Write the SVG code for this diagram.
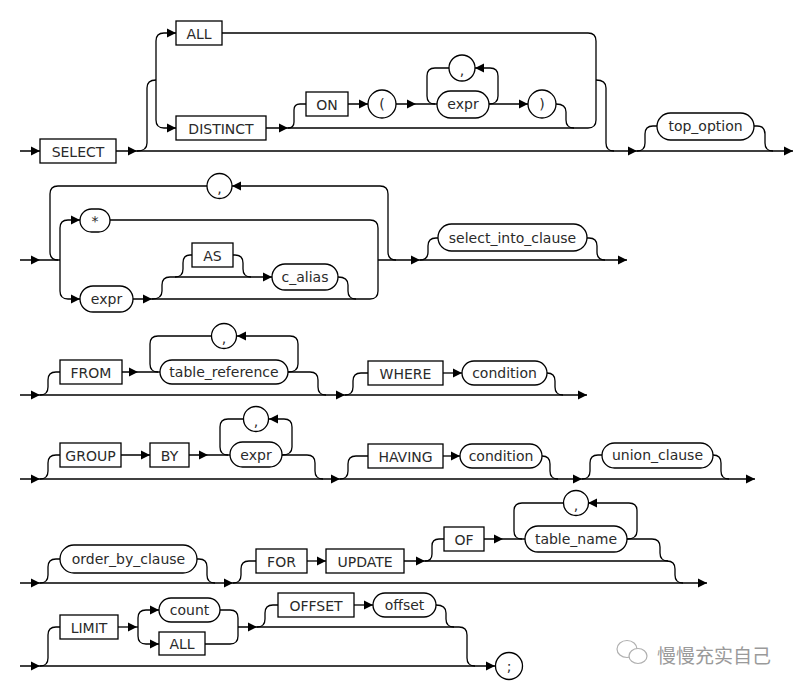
<svg xmlns="http://www.w3.org/2000/svg" xmlns:xlink="http://www.w3.org/1999/xlink" width="794" height="689" viewBox="0 0 794 689">
<style>
.ln{fill:none;stroke:#000;stroke-width:1.3}
.bx{fill:#fff;stroke:#000;stroke-width:1.3}
.t{font-family:"DejaVu Sans","Liberation Sans",sans-serif;font-size:14px;fill:#2a2a2a;text-anchor:middle;dominant-baseline:central}
.wm{font-family:"Noto Sans CJK SC","DejaVu Sans",sans-serif;font-size:19px;fill:#9a9a9a;dominant-baseline:central}
</style>
<defs>
<path id="a" d="M0,0 l-9,-4.5 v9 z" fill="#000"/>
<path id="b" d="M0,0 l9,-4.5 v9 z" fill="#000"/>
</defs>
<rect width="794" height="689" fill="#fff"/>
<g id="connectors">
<!-- row 1 -->
<path class="ln" d="M20,151 H40 M116,151 H793"/>
<path class="ln" d="M137,151 Q147,151 147,143 V88 Q147,80 156,80"/>
<path class="ln" d="M176,33 H164 Q156,33 156,41 V120 Q156,128 164,128 H176"/>
<path class="ln" d="M222,33 H588 Q596,33 596,41 V120 Q596,128 588,128 H266"/>
<path class="ln" d="M288,128 Q294,128 294,122 V110 Q294,104 300,104 H306"/>
<path class="ln" d="M348,104 H368 M396,104 H437"/>
<path class="ln" d="M449,68 H435 Q427,68 427,76 V96 Q427,104 435,104"/>
<path class="ln" d="M489,104 Q498,104 498,96 V76 Q498,68 490,68 H475"/>
<path class="ln" d="M489,104 H528"/>
<path class="ln" d="M556,104 Q566,104 566,112 V120 Q566,128 574,128"/>
<path class="ln" d="M596,80 Q606,80 606,88 V143 Q606,151 614,151"/>
<path class="ln" d="M637,151 Q645,151 645,143 V134 Q645,126 653,126 H657"/>
<path class="ln" d="M754,126 H757 Q765,126 765,134 V143 Q765,151 773,151"/>
<use href="#a" x="40" y="151"/><use href="#a" x="137" y="151"/><use href="#a" x="176" y="33"/><use href="#a" x="176" y="128"/>
<use href="#a" x="288" y="128"/><use href="#a" x="368" y="104"/><use href="#a" x="416" y="104"/><use href="#a" x="528" y="104"/>
<use href="#a" x="637" y="151"/><use href="#a" x="793" y="151"/><use href="#b" x="475" y="68"/>
<!-- row 2 -->
<path class="ln" d="M20,260 H60 M378,260 H627"/>
<path class="ln" d="M58,260 Q50,260 50,252 V194 Q50,186 58,186 H207"/>
<path class="ln" d="M232,186 H380 Q388,186 388,194 V252 Q388,260 396,260"/>
<path class="ln" d="M80,220 H68 Q60,220 60,228 V291 Q60,299 68,299 H80"/>
<path class="ln" d="M110,220 H370 Q378,220 378,228 V291 Q378,299 370,299 H133"/>
<path class="ln" d="M152,299 Q162,299 162,291 V285 Q162,277 170,277 H272"/>
<path class="ln" d="M175,277 Q183,277 183,269 V263 Q183,255 190,255 H192"/>
<path class="ln" d="M233,255 H235 Q243,255 243,263 V269 Q243,277 251,277"/>
<path class="ln" d="M338,277 Q348,277 348,285 V291 Q348,299 356,299"/>
<path class="ln" d="M420,260 Q428,260 428,252 V246 Q428,238 436,238 H438"/>
<path class="ln" d="M587,238 H589 Q597,238 597,246 V252 Q597,260 605,260"/>
<use href="#a" x="40" y="260"/><use href="#a" x="80" y="220"/><use href="#a" x="80" y="299"/><use href="#a" x="152" y="299"/>
<use href="#a" x="272" y="277"/><use href="#a" x="420" y="260"/><use href="#a" x="627" y="260"/><use href="#b" x="232" y="186"/>
<!-- row 3 -->
<path class="ln" d="M20,395 H587"/>
<path class="ln" d="M40,395 Q48,395 48,387 V380 Q48,372 56,372 H60"/>
<path class="ln" d="M122,372 H160"/>
<path class="ln" d="M211,336 H158 Q150,336 150,344 V364 Q150,372 158,372"/>
<path class="ln" d="M288,372 Q298,372 298,364 V344 Q298,336 290,336 H237"/>
<path class="ln" d="M288,372 H310 Q318,372 318,380 V387 Q318,395 326,395"/>
<path class="ln" d="M345,395 Q353,395 353,387 V381 Q353,373 361,373 H368"/>
<path class="ln" d="M443,373 H462"/>
<path class="ln" d="M547,373 Q555,373 555,381 V387 Q555,395 563,395"/>
<use href="#a" x="40" y="395"/><use href="#a" x="138" y="372"/><use href="#a" x="345" y="395"/><use href="#a" x="462" y="373"/>
<use href="#a" x="587" y="395"/><use href="#b" x="237" y="336"/>
<!-- row 4 -->
<path class="ln" d="M20,479 H755"/>
<path class="ln" d="M40,479 Q48,479 48,471 V463 Q48,455 56,455 H60"/>
<path class="ln" d="M121,455 H150 M189,455 H230"/>
<path class="ln" d="M243,419 H228 Q220,419 220,427 V447 Q220,455 228,455"/>
<path class="ln" d="M282,455 Q292,455 292,447 V427 Q292,419 284,419 H269"/>
<path class="ln" d="M282,455 H307 Q315,455 315,463 V471 Q315,479 323,479"/>
<path class="ln" d="M340,479 Q348,479 348,471 V464 Q348,456 356,456 H368"/>
<path class="ln" d="M443,456 H460"/>
<path class="ln" d="M542,456 Q550,456 550,464 V471 Q550,479 558,479"/>
<path class="ln" d="M582,479 Q590,479 590,471 V463 Q590,455 598,455 H602"/>
<path class="ln" d="M713,455 Q721,455 721,463 V471 Q721,479 729,479"/>
<use href="#a" x="40" y="479"/><use href="#a" x="150" y="455"/><use href="#a" x="208" y="455"/><use href="#a" x="340" y="479"/>
<use href="#a" x="460" y="456"/><use href="#a" x="582" y="479"/><use href="#a" x="755" y="479"/><use href="#b" x="269" y="419"/>
<!-- row 5 -->
<path class="ln" d="M20,583 H707"/>
<path class="ln" d="M40,583 Q48,583 48,575 V567 Q48,559 56,559 H60"/>
<path class="ln" d="M197,559 H199 Q207,559 207,567 V575 Q207,583 215,583"/>
<path class="ln" d="M233,583 Q241,583 241,575 V569 Q241,561 249,561 H256"/>
<path class="ln" d="M307,561 H326"/>
<path class="ln" d="M404,561 H667 Q675,561 675,569 V575 Q675,583 683,583"/>
<path class="ln" d="M425,561 Q432,561 432,554 V546 Q432,539 439,539 H444"/>
<path class="ln" d="M484,539 H525"/>
<path class="ln" d="M563,503 H522 Q514,503 514,511 V531 Q514,539 522,539"/>
<path class="ln" d="M627,539 Q637,539 637,531 V511 Q637,503 629,503 H588"/>
<path class="ln" d="M627,539 H652 Q660,539 660,547 V553 Q660,561 668,561"/>
<use href="#a" x="40" y="583"/><use href="#a" x="233" y="583"/><use href="#a" x="326" y="561"/><use href="#a" x="425" y="561"/>
<use href="#a" x="503" y="539"/><use href="#a" x="707" y="583"/><use href="#b" x="588" y="503"/>
<!-- row 6 -->
<path class="ln" d="M20,666 H495"/>
<path class="ln" d="M40,666 Q48,666 48,658 V635 Q48,627 56,627 H60"/>
<path class="ln" d="M118,627 H138"/>
<path class="ln" d="M159,610 H146 Q138,610 138,618 V636 Q138,644 146,644 H159"/>
<path class="ln" d="M220,610 H230 Q238,610 238,618 V636 Q238,644 230,644 H205"/>
<path class="ln" d="M238,627 H459 Q467,627 467,635 V658 Q467,666 475,666"/>
<path class="ln" d="M257,627 Q265,627 265,619 V613 Q265,605 273,605 H278"/>
<path class="ln" d="M354,605 H373"/>
<path class="ln" d="M436,605 Q446,605 446,613 V619 Q446,627 454,627"/>
<use href="#a" x="40" y="666"/><use href="#a" x="137" y="627"/><use href="#a" x="159" y="610"/><use href="#a" x="159" y="644"/>
<use href="#a" x="257" y="627"/><use href="#a" x="373" y="605"/><use href="#a" x="495" y="666"/>
</g>
<!-- row 1 nodes -->
<g id="n-select"><rect class="bx" x="40" y="139" width="76" height="24"/><text class="t" x="78" y="151.5">SELECT</text></g>
<g id="n-all1"><rect class="bx" x="176" y="21" width="46" height="24"/><text class="t" x="199" y="33.5">ALL</text></g>
<g id="n-distinct"><rect class="bx" x="176" y="116" width="90" height="24"/><text class="t" x="221" y="128.5">DISTINCT</text></g>
<g id="n-on"><rect class="bx" x="306" y="92" width="42" height="24"/><text class="t" x="327" y="104.5">ON</text></g>
<g id="n-lparen"><circle class="bx" cx="382" cy="104" r="14"/><text class="t" x="382" y="104">(</text></g>
<g id="n-expr1"><rect class="bx" x="437" y="91" width="52" height="27" rx="13.5"/><text class="t" x="463" y="104">expr</text></g>
<g id="n-comma1"><circle class="bx" cx="462" cy="68" r="13"/><text class="t" x="462" y="70">,</text></g>
<g id="n-rparen"><circle class="bx" cx="542" cy="104" r="14"/><text class="t" x="542" y="104">)</text></g>
<g id="n-top"><rect class="bx" x="657" y="113" width="97" height="27" rx="13.5"/><text class="t" x="705.5" y="126">top_option</text></g>
<!-- row 2 nodes -->
<g id="n-comma2"><circle class="bx" cx="219.5" cy="186" r="12.5"/><text class="t" x="219.5" y="188">,</text></g>
<g id="n-star"><rect class="bx" x="80" y="209" width="30" height="23" rx="11.5"/><text class="t" x="95" y="221">*</text></g>
<g id="n-expr2"><rect class="bx" x="80" y="286" width="53" height="26" rx="13"/><text class="t" x="106.5" y="299">expr</text></g>
<g id="n-as"><rect class="bx" x="192" y="243" width="41" height="24"/><text class="t" x="212.5" y="255.5">AS</text></g>
<g id="n-calias"><rect class="bx" x="272" y="264" width="66" height="26" rx="13"/><text class="t" x="305" y="277">c_alias</text></g>
<g id="n-into"><rect class="bx" x="438" y="224" width="149" height="27" rx="13.5"/><text class="t" x="512.5" y="237.5">select_into_clause</text></g>
<!-- row 3 nodes -->
<g id="n-from"><rect class="bx" x="60" y="360" width="62" height="24"/><text class="t" x="91" y="372.5">FROM</text></g>
<g id="n-tref"><rect class="bx" x="160" y="360" width="128" height="24" rx="12"/><text class="t" x="224" y="372">table_reference</text></g>
<g id="n-comma3"><circle class="bx" cx="224" cy="336" r="12.5"/><text class="t" x="224" y="338">,</text></g>
<g id="n-where"><rect class="bx" x="368" y="361" width="75" height="24"/><text class="t" x="405.5" y="373.5">WHERE</text></g>
<g id="n-cond1"><rect class="bx" x="462" y="361" width="85" height="24" rx="12"/><text class="t" x="504.5" y="373">condition</text></g>
<!-- row 4 nodes -->
<g id="n-group"><rect class="bx" x="60" y="443" width="61" height="24"/><text class="t" x="90.5" y="455.5">GROUP</text></g>
<g id="n-by"><rect class="bx" x="150" y="443" width="39" height="24"/><text class="t" x="169.5" y="455.5">BY</text></g>
<g id="n-expr3"><rect class="bx" x="230" y="442" width="52" height="25" rx="12.5"/><text class="t" x="256" y="454.5">expr</text></g>
<g id="n-comma4"><circle class="bx" cx="256" cy="419" r="12.5"/><text class="t" x="256" y="421">,</text></g>
<g id="n-having"><rect class="bx" x="368" y="444" width="75" height="24"/><text class="t" x="405.5" y="456.5">HAVING</text></g>
<g id="n-cond2"><rect class="bx" x="460" y="444" width="82" height="24" rx="12"/><text class="t" x="501" y="456">condition</text></g>
<g id="n-union"><rect class="bx" x="602" y="443" width="111" height="25" rx="12.5"/><text class="t" x="657.5" y="455">union_clause</text></g>
<!-- row 5 nodes -->
<g id="n-order"><rect class="bx" x="60" y="545" width="137" height="28" rx="14"/><text class="t" x="128.5" y="558.5">order_by_clause</text></g>
<g id="n-for"><rect class="bx" x="256" y="549" width="51" height="24"/><text class="t" x="281.5" y="561.5">FOR</text></g>
<g id="n-update"><rect class="bx" x="326" y="549" width="78" height="24"/><text class="t" x="365" y="561.5">UPDATE</text></g>
<g id="n-of"><rect class="bx" x="444" y="527" width="40" height="24"/><text class="t" x="464" y="539.5">OF</text></g>
<g id="n-tname"><rect class="bx" x="525" y="526" width="102" height="26" rx="13"/><text class="t" x="576" y="539">table_name</text></g>
<g id="n-comma5"><circle class="bx" cx="576" cy="503" r="12.5"/><text class="t" x="576" y="505">,</text></g>
<!-- row 6 nodes -->
<g id="n-limit"><rect class="bx" x="60" y="615" width="58" height="24"/><text class="t" x="89" y="627.5">LIMIT</text></g>
<g id="n-count"><rect class="bx" x="159" y="598" width="61" height="24" rx="12"/><text class="t" x="189.5" y="610">count</text></g>
<g id="n-all2"><rect class="bx" x="159" y="632" width="46" height="23"/><text class="t" x="182" y="644">ALL</text></g>
<g id="n-offsetkw"><rect class="bx" x="278" y="593" width="76" height="24"/><text class="t" x="316" y="605.5">OFFSET</text></g>
<g id="n-offset"><rect class="bx" x="373" y="593" width="63" height="24" rx="12"/><text class="t" x="404.5" y="605">offset</text></g>
<g id="n-semi"><circle class="bx" cx="509" cy="666" r="13.5"/><text class="t" x="509" y="666">;</text></g>
<!-- watermark -->
<g id="watermark" fill="none" stroke="#b0b0b0" stroke-width="1.2">
<ellipse cx="627" cy="649" rx="10" ry="8.5"/>
<ellipse cx="638" cy="656" rx="9" ry="7.5" fill="#fff"/>
<text class="wm" x="657" y="654" stroke="none">慢慢充实自己</text>
</g>
</svg>
